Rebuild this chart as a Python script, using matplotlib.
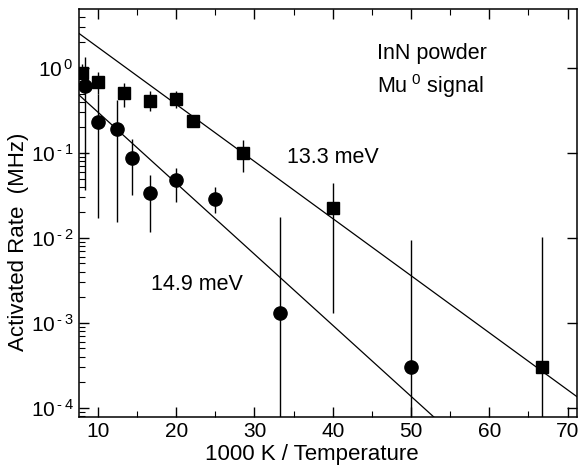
import numpy as np
import matplotlib
matplotlib.use("Agg")
from matplotlib import pyplot as plt
from matplotlib.ticker import FixedLocator, LogLocator, FuncFormatter

plt.rcParams['font.family'] = ['Liberation Sans', 'DejaVu Sans']
plt.rcParams['mathtext.fontset'] = 'custom'
plt.rcParams['mathtext.rm'] = 'Liberation Sans'

# squares: 1000 K / T, rate (MHz), error bar low / high
sq_x = [8.0, 10.0, 13.3, 16.7, 20.0, 22.2, 28.6, 40.0, 66.7]
sq_y = [0.87, 0.68, 0.51, 0.41, 0.435, 0.24, 0.099, 0.0224, 3.06e-4]
sq_lo = [0.6, 0.5, 0.35, 0.31, 0.335, 0.21, 0.06, 0.0013, 1e-7]
sq_hi = [1.1, 0.9, 0.67, 0.53, 0.54, 0.27, 0.142, 0.044, 0.0102]

# circles
ci_x = [8.33, 10.0, 12.5, 14.3, 16.7, 20.0, 25.0, 33.3, 50.0]
ci_y = [0.62, 0.23, 0.19, 0.088, 0.034, 0.048, 0.029, 0.0013, 3.06e-4]
ci_lo = [0.037, 0.0173, 0.0155, 0.032, 0.0118, 0.0268, 0.0195, 1e-7, 1e-7]
ci_hi = [1.35, 0.5, 0.42, 0.145, 0.055, 0.066, 0.0395, 0.0178, 0.0095]

# fitted lines: log10(rate) = log10(A) - slope * x
fit_logA = [0.916, 0.316]
fit_slope = [0.0672, 0.0836]

fig = plt.figure(figsize=(5.79, 4.69), dpi=100)
ax = fig.add_axes([0.1364, 0.1109, 0.860, 0.870])

xs = np.linspace(7.58, 71.2, 200)
for la, s in zip(fit_logA, fit_slope):
    ax.plot(xs, 10 ** (la - s * xs), color='black', lw=0.9)

def draw(x, y, lo, hi, marker, ms):
    x = np.array(x); y = np.array(y)
    yerr = [y - np.array(lo), np.array(hi) - y]
    ax.errorbar(x, y, yerr=yerr, fmt=marker, color='black', ms=ms,
                ecolor='black', elinewidth=1.0, capsize=0, mec='black', mfc='black')

draw(sq_x, sq_y, sq_lo, sq_hi, 's', 8)
draw(ci_x, ci_y, ci_lo, ci_hi, 'o', 9.5)

ax.set_yscale('log')
ax.set_xlim(7.58, 71.2)
ax.set_ylim(7.8e-5, 4.95)

def exp_label(v, p):
    e = int(round(np.log10(v)))
    s = r'\text{-}\,%d' % -e if e < 0 else '%d' % e
    return r'$\mathregular{10^{\,%s}}$' % s

ax.xaxis.set_major_locator(FixedLocator([10, 20, 30, 40, 50, 60, 70]))
ax.xaxis.set_minor_locator(FixedLocator([15, 25, 35, 45, 55, 65]))
ax.yaxis.set_major_locator(LogLocator(base=10, numticks=10))
ax.yaxis.set_minor_locator(LogLocator(base=10, subs=np.arange(2, 10), numticks=10))
ax.yaxis.set_major_formatter(FuncFormatter(exp_label))

ax.tick_params(which='both', direction='in', top=True, right=True, labelsize=15)
ax.tick_params(which='major', length=7, width=1)
ax.tick_params(which='minor', length=4, width=0.8)
ax.tick_params(axis='y', which='minor', right=False)
ax.tick_params(axis='y', pad=4)
for sp in ax.spines.values():
    sp.set_linewidth(1.1)

ax.set_xlabel('1000 K / Temperature', fontsize=16)
ax.set_ylabel('Activated Rate  (MHz)', fontsize=16)
ax.xaxis.set_label_coords(0.467, -0.065)
ax.yaxis.set_label_coords(-0.1, 0.43)

ax.text(0.598, 0.877, 'InN powder', transform=ax.transAxes, fontsize=15.5)
ax.text(0.598, 0.795, r'Mu$\mathregular{^{\ 0}}$ signal', transform=ax.transAxes, fontsize=15.5)
ax.text(0.418, 0.623, '13.3 meV', transform=ax.transAxes, fontsize=15.5)
ax.text(0.145, 0.310, '14.9 meV', transform=ax.transAxes, fontsize=15.5)

fig.savefig('out.png', dpi=100)
